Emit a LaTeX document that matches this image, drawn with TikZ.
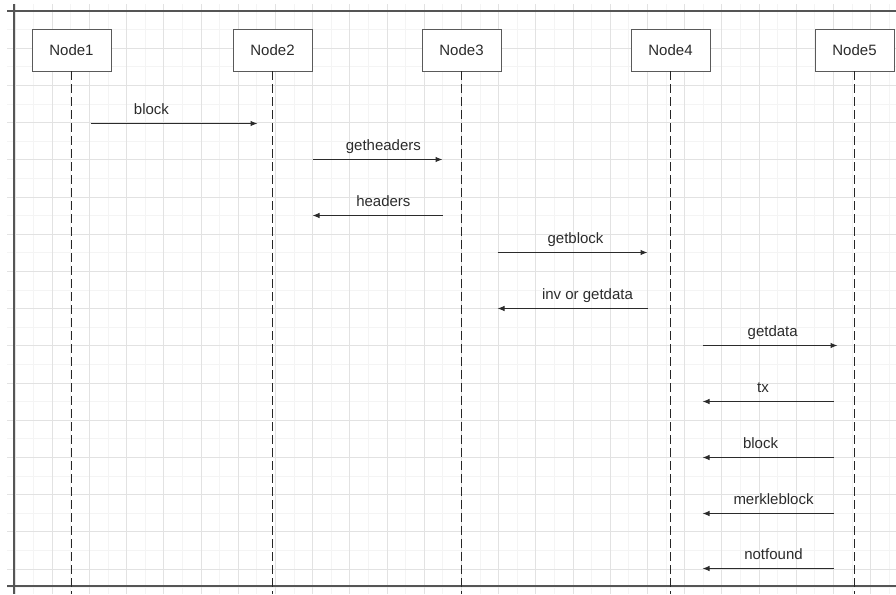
\documentclass[tikz,border=0pt]{standalone}
\usepackage{fontspec}
\setmainfont{Liberation Sans}
\usetikzlibrary{arrows.meta,positioning,calc}
\definecolor{Frame}{HTML}{555555}
\definecolor{Edge}{HTML}{5A5A5A}
\definecolor{Ink}{HTML}{2B2B2B}
\definecolor{GridMinor}{HTML}{F4F4F4}
\definecolor{GridMajor}{HTML}{E2E2E2}

\begin{document}
\begin{tikzpicture}[
  x=1pt,y=-1pt,
  actor/.style={draw=Edge,fill=white,line width=1pt,outer sep=0pt,minimum width=79pt,minimum height=41pt,inner sep=0pt,font=\fontsize{15}{17}\selectfont,text=Ink},
  lifeline/.style={draw=black!85,line width=1pt,dash pattern=on 9pt off 4pt},
  msg/.style={-{Latex[length=7pt,width=5.5pt]},line width=1pt,draw=Ink},
  lbl/.style={font=\fontsize{15}{17}\selectfont,text=Ink,inner sep=0pt,text height=10.5pt,text depth=3pt,above=5.7pt},
  border/.style={draw=Frame,line width=1.4pt}
]
\useasboundingbox (0,0) rectangle (896,594);
% grid paper
\begin{scope}[shift={(15,11)}]
  \draw[GridMinor,line width=0.8pt,step=18.6pt] (-8,-7) grid (881,583);
  \draw[GridMajor,line width=0.8pt,step=37.2pt] (-8,-7) grid (881,583);
\end{scope}
\draw[border] (7,11) -- (896,11);
\draw[border] (14,4) -- (14,594);
\draw[border] (7,586) -- (896,586);

% participants
\node[actor] (n1) at (71.5,50.5) {Node1};
\node[actor,right=122pt of n1] (n2) {Node2};
\node[actor,right=110pt of n2] (n3) {Node3};
\node[actor,right=130pt of n3] (n4) {Node4};
\node[actor,right=105pt of n4] (n5) {Node5};
\coordinate (bot) at (0,594);
\foreach \n in {n1,n2,n3,n4,n5}
  \draw[lifeline] (\n.south) -- (\n.south |- bot);

% message rows
\coordinate (r1) at (0,123.5);
\coordinate (r2) at (0,159.5);
\coordinate (r3) at (0,215.5);
\coordinate (r4) at (0,252.5);
\coordinate (r5) at (0,308.5);
\coordinate (r6) at (0,345.5);
\coordinate (r7) at (0,401.5);
\coordinate (r8) at (0,457.5);
\coordinate (r9) at (0,513.5);
\coordinate (r10) at (0,568.5);

\draw[msg] ([xshift=19pt]n1.south |- r1) -- ([xshift=-15pt]n2.south |- r1) node[lbl,pos=0.365] {block};
\draw[msg] ([xshift=40pt]n2.south |- r2) -- ([xshift=-19pt]n3.south |- r2) node[lbl,pos=0.545] {getheaders};
\draw[msg] ([xshift=-19pt]n3.south |- r3) -- ([xshift=40pt]n2.south |- r3) node[lbl,pos=0.455] {headers};
\draw[msg] ([xshift=36pt]n3.south |- r4) -- ([xshift=-23pt]n4.south |- r4) node[lbl,pos=0.52] {getblock};
\draw[msg] ([xshift=-23pt]n4.south |- r5) -- ([xshift=36pt]n3.south |- r5) node[lbl,pos=0.4] {inv or getdata};
\draw[msg] ([xshift=32pt]n4.south |- r6) -- ([xshift=-17pt]n5.south |- r6) node[lbl,pos=0.52] {getdata};
\draw[msg] ([xshift=-21pt]n5.south |- r7) -- ([xshift=32pt]n4.south |- r7) node[lbl,pos=0.538] {tx};
\draw[msg] ([xshift=-21pt]n5.south |- r8) -- ([xshift=32pt]n4.south |- r8) node[lbl,pos=0.557] {block};
\draw[msg] ([xshift=-21pt]n5.south |- r9) -- ([xshift=32pt]n4.south |- r9) node[lbl,pos=0.458] {merkleblock};
\draw[msg] ([xshift=-21pt]n5.south |- r10) -- ([xshift=32pt]n4.south |- r10) node[lbl,pos=0.458] {notfound};
\end{tikzpicture}
\end{document}
